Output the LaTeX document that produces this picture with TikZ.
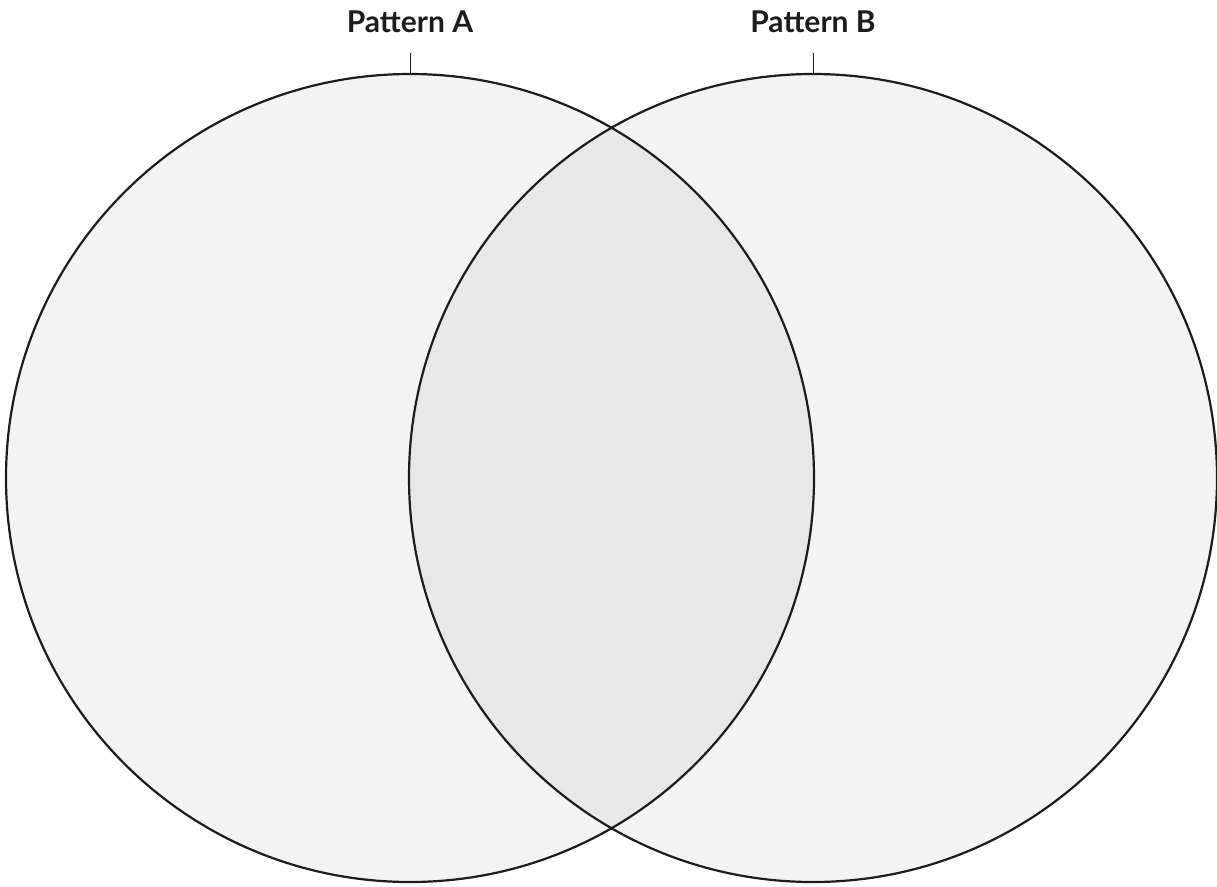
\documentclass[tikz,border=0pt]{standalone}
\usepackage{fontspec}
\setmainfont{Lato}
\definecolor{setfill}{HTML}{F3F3F3}
\definecolor{capfill}{HTML}{E8E8E8}
\definecolor{rim}{HTML}{1C1C1C}

\begin{document}
\begin{tikzpicture}[x=1pt,y=-1pt,
    setlabel/.style={font=\fontsize{30}{34}\selectfont\bfseries, text=rim, inner sep=0pt},
    rimline/.style={draw=rim, line width=2.2pt}]
    % Fix the page size
    \useasboundingbox (0,0) rectangle (1217,886);

    % Fill the two sets
    \fill[setfill] (410,478) circle (404);
    \fill[setfill] (813,478) circle (404);

    % Overlap region
    \begin{scope}
        \clip (410,478) circle (404);
        \fill[capfill] (813,478) circle (404);
    \end{scope}

    % Outlines
    \node[circle, minimum size=808pt, inner sep=0pt, rimline] (circA) at (410,478) {};
    \node[circle, minimum size=808pt, inner sep=0pt, rimline] (circB) at (813,478) {};

    % Labels and ticks
    \node[setlabel] (labA) at (410,22) {Pattern A};
    \node[setlabel] (labB) at (813,22) {Pattern B};
    \coordinate (tickA) at (410,53);
    \coordinate (tickB) at (813,53);
    \draw[draw=rim, line width=1pt] (tickA) -- (circA.north);
    \draw[draw=rim, line width=1pt] (tickB) -- (circB.north);
\end{tikzpicture}
\end{document}
